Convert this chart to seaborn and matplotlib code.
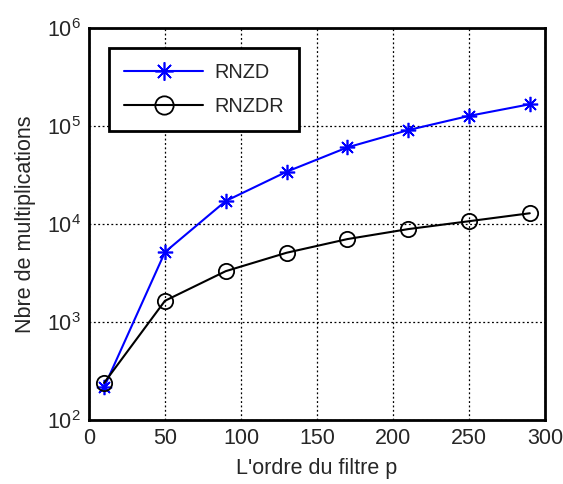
import matplotlib
matplotlib.use("Agg")
import matplotlib.pyplot as plt
import seaborn as sns
import pandas as pd

# Filter orders and multiplication counts
ordre = [10, 50, 90, 130, 170, 210, 250, 290]
rnzd = [217, 5180, 17200, 34200, 60600, 91000, 127000, 167000]
rnzdr = [240, 1650, 3310, 5100, 7030, 8890, 10700, 12900]

sns.set_style("white")
plt.rcParams['font.family'] = ['Liberation Sans', 'DejaVu Sans']

fig = plt.figure(figsize=(5.63, 4.84), dpi=100)
ax = fig.add_axes([0.158, 0.132, 0.810, 0.810])

df1 = pd.DataFrame({"p": ordre, "n": rnzd})
df2 = pd.DataFrame({"p": ordre, "n": rnzdr})

sns.lineplot(data=df1, x="p", y="n", ax=ax, color="blue", lw=1.5,
             marker=(8, 2, 0), markersize=11, markeredgewidth=1.2,
             markeredgecolor="blue", label="RNZD")
sns.lineplot(data=df2, x="p", y="n", ax=ax, color="black", lw=1.5,
             marker="o", markersize=11, markerfacecolor="none",
             markeredgewidth=1.3, markeredgecolor="black", label="RNZDR")

ax.set_yscale("log")
ax.set_xlim(0, 300)
ax.set_ylim(1e2, 1e6)
ax.set_xticks([0, 50, 100, 150, 200, 250, 300])
ax.set_yticks([1e2, 1e3, 1e4, 1e5, 1e6])
ax.minorticks_off()
ax.grid(True, which="major", color="black", linestyle=(0, (1.5, 2)), linewidth=0.9)
ax.tick_params(axis="both", labelsize=15.5, direction="in", length=4, width=1,
               color="black", pad=6)

for s in ax.spines.values():
    s.set_linewidth(2)
    s.set_color("black")

ax.set_xlabel("L'ordre du filtre p", fontsize=15.5, labelpad=6)
ax.set_ylabel("Nbre de multiplications", fontsize=15.5, labelpad=8)

leg = ax.legend(loc="upper left", bbox_to_anchor=(0.044, 0.949), fontsize=14.3,
                handlelength=4.0, handletextpad=0.55, fancybox=False, framealpha=1,
                edgecolor="black", borderpad=0.75, labelspacing=0.75,
                borderaxespad=0, markerscale=1.2)
leg.get_frame().set_linewidth(2)

fig.savefig("out.png", dpi=100)
